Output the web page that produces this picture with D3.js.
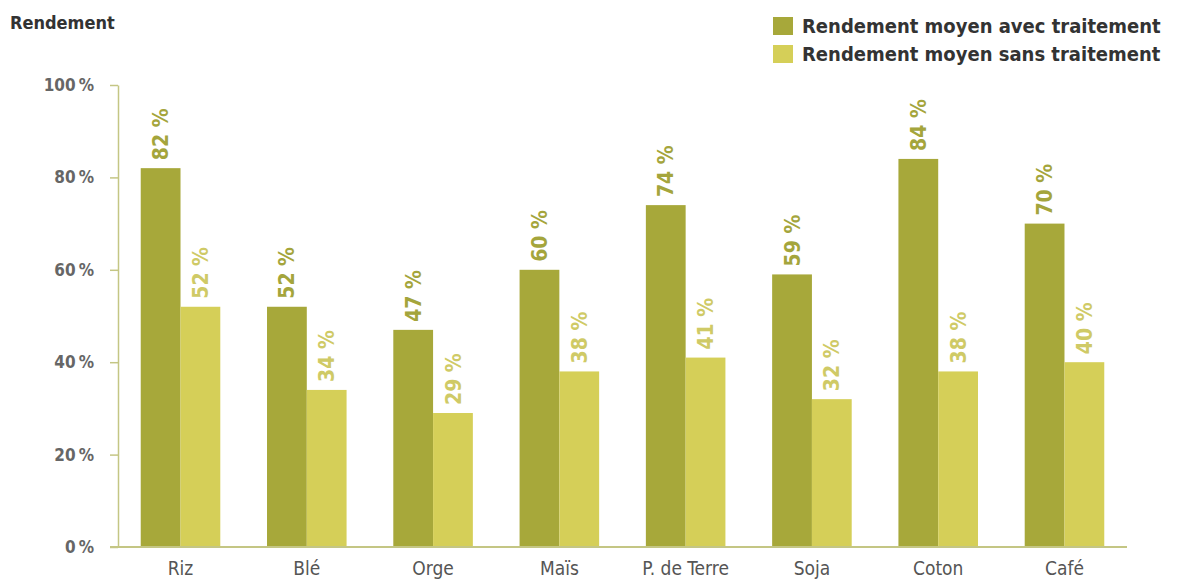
<!DOCTYPE html>
<html>
<head>
<meta charset="utf-8">
<script src="https://cdn.jsdelivr.net/npm/d3@7"></script>
<style>
  html, body { margin: 0; padding: 0; background: #fff; }
  svg { display: block; }
  text { font-family: "DejaVu Sans Condensed", "Liberation Sans Narrow", "Roboto", sans-serif; }
</style>
</head>
<body>
<svg id="chart" width="1185" height="583"></svg>
<script>
// Crops and average yields (%) with and without treatment
const categories = ["Riz", "Blé", "Orge", "Maïs", "P. de Terre", "Soja", "Coton", "Café"];
const withTreatment = [82, 52, 47, 60, 74, 59, 84, 70];
const withoutTreatment = [52, 34, 29, 38, 41, 32, 38, 40];
const yTicks = [0, 20, 40, 60, 80, 100];
const seriesNames = ["Rendement moyen avec traitement", "Rendement moyen sans traitement"];
const seriesColors = ["#a7a83a", "#d5cf58"];
const labelColors = ["#a4a53c", "#cfca66"];

const svg = d3.select("#chart");
const plot = { left: 118, right: 1127, top: 85, bottom: 547 };

const x = d3.scaleBand()
  .domain(categories)
  .range([plot.left, plot.right])
  .paddingInner(0.37)
  .paddingOuter(0.18);

const sub = d3.scaleBand()
  .domain([0, 1])
  .range([0, x.bandwidth()]);

const y = d3.scaleLinear()
  .domain([0, 100])
  .range([plot.bottom, plot.top]);

// Bars
const series = [withTreatment, withoutTreatment];
series.forEach((vals, si) => {
  svg.append("g")
    .selectAll("rect")
    .data(categories)
    .join("rect")
    .attr("x", (c) => x(c) + sub(si))
    .attr("y", (c, i) => y(vals[i]))
    .attr("width", sub.bandwidth())
    .attr("height", (c, i) => y(0) - y(vals[i]))
    .attr("fill", seriesColors[si]);

  // Rotated value labels above each bar
  svg.append("g")
    .selectAll("text")
    .data(categories)
    .join("text")
    .attr("transform", (c, i) => {
      const cx = x(c) + sub(si) + sub.bandwidth() / 2;
      const ty = y(vals[i]) - 8;
      return `translate(${cx},${ty}) rotate(-90)`;
    })
    .attr("dy", "0.36em")
    .attr("text-anchor", "start")
    .attr("font-size", 21)
    .attr("font-weight", "bold")
    .attr("fill", labelColors[si])
    .text((c, i) => vals[i] + " %");
});

// Y axis
const yAxis = svg.append("g")
  .attr("transform", `translate(${plot.left},0)`)
  .call(d3.axisLeft(y)
    .tickValues(yTicks)
    .tickSize(8)
    .tickSizeOuter(0)
    .tickPadding(16)
    .tickFormat((d) => d + "\u2009%"));
yAxis.select(".domain").attr("stroke", "#c4c684").attr("stroke-width", 1.5);
yAxis.selectAll(".tick line").attr("stroke", "#c4c684").attr("stroke-width", 1.5);
yAxis.selectAll(".tick text")
  .attr("font-size", 17)
  .attr("font-weight", "bold")
  .attr("fill", "#666")
  .attr("font-family", "'DejaVu Sans Condensed', 'Liberation Sans Narrow', sans-serif");

// X axis
const xAxis = svg.append("g")
  .attr("transform", `translate(0,${plot.bottom})`)
  .call(d3.axisBottom(x).tickSize(0).tickPadding(15));
xAxis.select(".domain").remove();
xAxis.append("line")
  .attr("x1", plot.left - 8)
  .attr("x2", plot.right)
  .attr("stroke", "#c4c684")
  .attr("stroke-width", 2);
xAxis.selectAll(".tick text")
  .attr("font-size", 19)
  .attr("fill", "#555")
  .attr("font-family", "'DejaVu Sans Condensed', 'Liberation Sans Narrow', sans-serif");

// Axis title
svg.append("text")
  .attr("x", 10)
  .attr("y", 29)
  .attr("font-size", 18)
  .attr("font-weight", "bold")
  .attr("fill", "#333")
  .text("Rendement");

// Legend
const legend = svg.append("g").attr("transform", "translate(773,17)");
seriesNames.forEach((name, i) => {
  const g = legend.append("g").attr("transform", `translate(0,${i * 28})`);
  g.append("rect").attr("width", 20).attr("height", 18).attr("fill", seriesColors[i]);
  g.append("text")
    .attr("x", 29)
    .attr("y", 16)
    .attr("font-size", 20)
    .attr("font-weight", "bold")
    .attr("fill", "#333")
    .text(name);
});
</script>
</body>
</html>
